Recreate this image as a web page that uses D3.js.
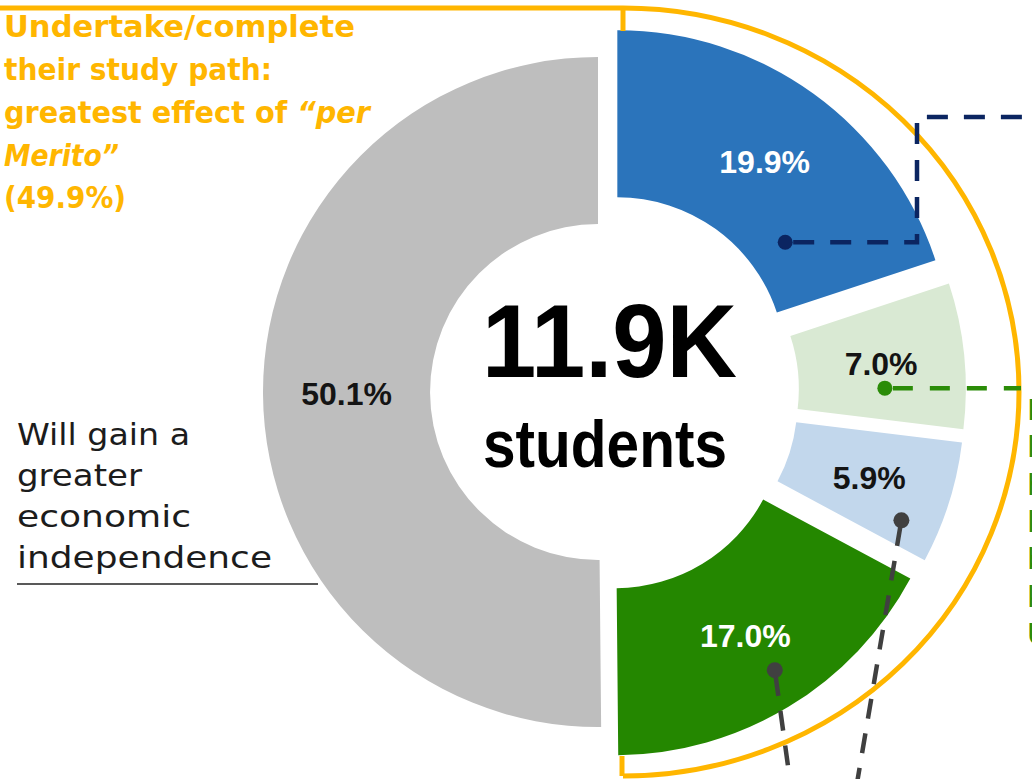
<!DOCTYPE html>
<html>
<head>
<meta charset="utf-8">
<script src="https://cdn.jsdelivr.net/npm/d3@7"></script>
<style>
  html, body { margin: 0; padding: 0; background: #ffffff; overflow: hidden; }
  svg { display: block; }
</style>
</head>
<body>
<svg id="chart" width="1032" height="779"></svg>
<script>
// Expected effect of the "per Merito" grant on 11.9K students (shares, %)
const sliceKeys   = ["path-a", "path-b", "path-c", "path-d", "independence"];
const sliceValues = [19.9, 7.0, 5.9, 17.0, 50.1];
const sliceColors = ["#2b74bb", "#d9e9d3", "#c2d7ec", "#248700", "#bebebe"];
const labelColors = ["#ffffff", "#141414", "#141414", "#ffffff", "#141414"];

const totalLabel   = "11.9K";
const totalCaption = "students";

const studyPathLines = [
  [{ t: "Undertake/complete" }],
  [{ t: "their study path:" }],
  [{ t: "greatest effect of " }, { t: "\u201Cper", i: true }],
  [{ t: "Merito\u201D", i: true }],
  [{ t: "(49.9%)" }]
];
const independenceLines = ["Will gain a", "greater", "economic", "independence"];
const sideNoteLines = ["Be less", "likely to", "hold a", "low-paid", "bar or", "kitchen job", "Until they graduate"];

// ---- layout ----
const W = 1032, H = 779;
const cx = 598, cy = 392;
const rIn = 168, rOut = 335;
const explode = [33, 33, 33, 33, 0];

const svg = d3.select("#chart");

const data = sliceKeys.map((k, i) => ({ key: k, value: sliceValues[i], color: sliceColors[i], labelColor: labelColors[i], explode: explode[i] }));

const pie = d3.pie().sort(null).value(d => d.value).startAngle(0).endAngle(2 * Math.PI);
const arcs = pie(data);
const arc = d3.arc().innerRadius(rIn).outerRadius(rOut);
const fmt = v => d3.format(".1f")(v) + "%";

// slice origin after pulling it out along its bisector
function origin(a) {
  const m = (a.startAngle + a.endAngle) / 2;
  return [cx + a.data.explode * Math.sin(m), cy - a.data.explode * Math.cos(m)];
}
// point inside a slice given fractional angle / radius
function inSlice(a, tf, rf) {
  const [ox, oy] = origin(a);
  const ang = a.startAngle + tf * (a.endAngle - a.startAngle);
  const r = rIn + rf * (rOut - rIn);
  return [ox + r * Math.sin(ang), oy - r * Math.cos(ang)];
}

// ---- slices ----
const slices = svg.append("g").selectAll("g.slice")
  .data(arcs).join("g")
  .attr("class", "slice")
  .attr("transform", d => `translate(${origin(d)})`);

slices.append("path")
  .attr("d", arc)
  .attr("fill", d => d.data.color);

// ---- orange bracket around the study-path slices ----
const orange = "#ffb600";
const bx = 623, bTop = 8, bBot = 776;
svg.append("path")
  .attr("d", `M0,${bTop} H${bx} A396,${(bBot - bTop) / 2} 0 0 1 ${bx},${bBot}`)
  .attr("fill", "none").attr("stroke", orange).attr("stroke-width", 5);
svg.append("line").attr("x1", bx).attr("x2", bx).attr("y1", bTop).attr("y2", 31)
  .attr("stroke", orange).attr("stroke-width", 5);
svg.append("line").attr("x1", bx - 1).attr("x2", bx - 1).attr("y1", 756).attr("y2", bBot)
  .attr("stroke", orange).attr("stroke-width", 5);

// ---- value labels ----
slices.append("text")
  .attr("transform", d => `translate(${arc.centroid(d)})`)
  .attr("text-anchor", "middle")
  .attr("dy", "0.36em")
  .attr("font-family", "'Liberation Sans', Arial, sans-serif")
  .attr("font-weight", "bold")
  .attr("font-size", 32)
  .attr("fill", d => d.data.labelColor)
  .text(d => fmt(d.data.value));

// ---- connectors ----
const navy = "#0b2561", green = "#2b8c08", dark = "#404040";
const conn = svg.append("g").attr("fill", "none").attr("stroke-width", 4.5);

const pNavy = inSlice(arcs[0], 0.75, 0.24);
conn.append("path")
  .attr("d", d3.line()([pNavy, [917, pNavy[1]], [917, 117], [1045, 117]]))
  .attr("stroke", navy).attr("stroke-dasharray", "21 16").attr("stroke-dashoffset", -8);

const pGreen = inSlice(arcs[1], 0.72, 0.515);
conn.append("path")
  .attr("d", d3.line()([pGreen, [1021, pGreen[1]]]))
  .attr("stroke", green).attr("stroke-dasharray", "20 17").attr("stroke-dashoffset", -8);

const pGrey1 = inSlice(arcs[2], 0.78, 0.77);
conn.append("path")
  .attr("d", d3.line()([pGrey1, [855, 795]]))
  .attr("stroke", dark).attr("stroke-dasharray", "20 15").attr("stroke-dashoffset", -6);

const pGrey2 = inSlice(arcs[3], 0.477, 0.77);
conn.append("path")
  .attr("d", d3.line()([pGrey2, [792, 795]]))
  .attr("stroke", dark).attr("stroke-dasharray", "20 15").attr("stroke-dashoffset", -6);

const dots = svg.append("g");
[[pNavy, navy, 7.5], [pGreen, green, 7.5], [pGrey1, dark, 8], [pGrey2, dark, 8]].forEach(([p, c, r]) => {
  dots.append("circle").attr("cx", p[0]).attr("cy", p[1]).attr("r", r).attr("fill", c);
});

// ---- centre total ----
svg.append("text")
  .attr("x", 482).attr("y", 377)
  .attr("font-family", "'Liberation Sans', Arial, sans-serif")
  .attr("font-weight", "bold").attr("font-size", 104)
  .attr("textLength", 255).attr("lengthAdjust", "spacingAndGlyphs")
  .attr("fill", "#000")
  .text(totalLabel);
svg.append("text")
  .attr("x", 483).attr("y", 467)
  .attr("font-family", "'Liberation Sans', Arial, sans-serif")
  .attr("font-weight", "bold").attr("font-size", 67)
  .attr("textLength", 244).attr("lengthAdjust", "spacingAndGlyphs")
  .attr("fill", "#000")
  .text(totalCaption);

// ---- study-path heading (orange) ----
const headWidths = [351, 268, 366, 115, 122];
const headBase = [37, 80, 123, 166, 208];
studyPathLines.forEach((parts, i) => {
  const t = svg.append("text")
    .attr("x", 4).attr("y", headBase[i])
    .attr("font-family", "'DejaVu Sans', sans-serif")
    .attr("font-weight", "bold").attr("font-size", 30)
    .attr("fill", orange)
    .attr("textLength", headWidths[i]).attr("lengthAdjust", "spacingAndGlyphs");
  parts.forEach(p => {
    t.append("tspan").attr("font-style", p.i ? "italic" : "normal").text(p.t);
  });
});

// ---- independence note (black) ----
const indWidths = [173, 125, 174, 255];
const indBase = [445, 486, 527, 568];
independenceLines.forEach((s, i) => {
  svg.append("text")
    .attr("x", 17).attr("y", indBase[i])
    .attr("font-family", "'DejaVu Sans', sans-serif")
    .attr("font-size", 31)
    .attr("fill", "#1c1c1c")
    .attr("textLength", indWidths[i]).attr("lengthAdjust", "spacingAndGlyphs")
    .text(s);
});
svg.append("line")
  .attr("x1", 17).attr("x2", 318).attr("y1", 584).attr("y2", 584)
  .attr("stroke", "#222").attr("stroke-width", 1.6);

// ---- side note (green), runs past the right edge ----
sideNoteLines.forEach((s, i) => {
  svg.append("text")
    .attr("x", 1027).attr("y", 420 + i * 37.3)
    .attr("font-family", "'DejaVu Sans', sans-serif")
    .attr("font-size", 29)
    .attr("fill", green)
    .text(s);
});
</script>
</body>
</html>
